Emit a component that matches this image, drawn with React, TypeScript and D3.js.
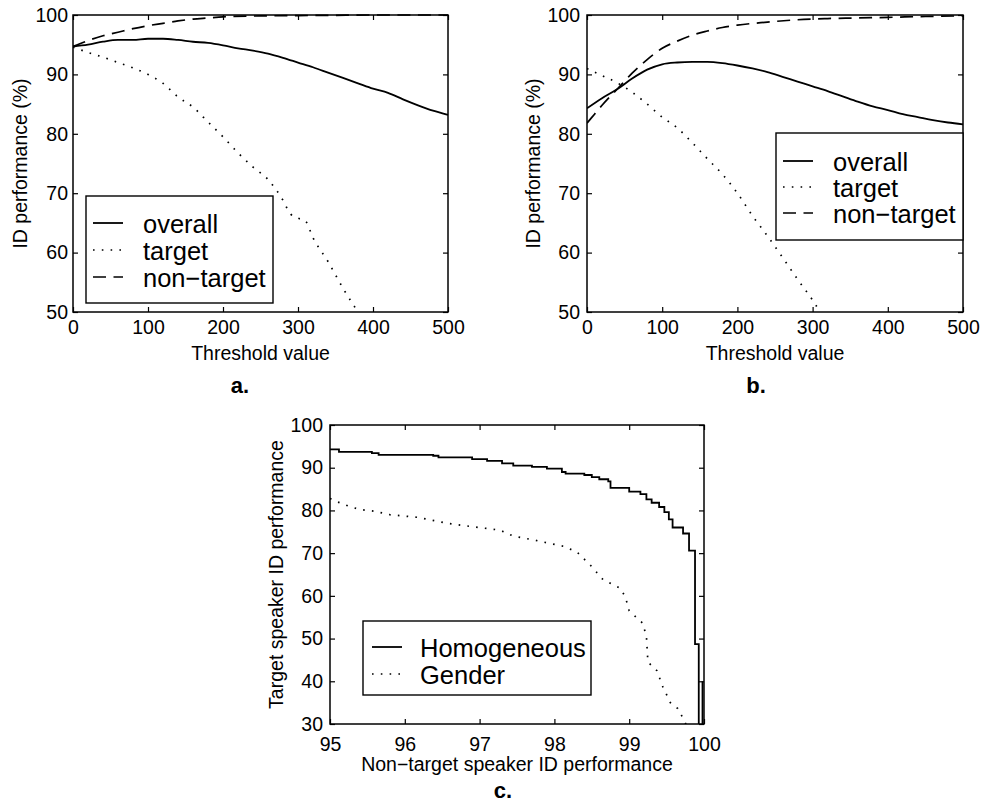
import React, { useEffect, useRef } from 'react';
import * as d3 from 'd3';

type Pt = [number, number];

// axis ticks
const thresholdTicks = [0, 100, 200, 300, 400, 500];
const perfTicks = [50, 60, 70, 80, 90, 100];
const nonTargetTicks = [95, 96, 97, 98, 99, 100];
const targetTicks = [30, 40, 50, 60, 70, 80, 90, 100];

// legends
const legendAB = ['overall', 'target', 'non\u2212target'];
const legendC = ['Homogeneous', 'Gender'];

// panel a: threshold vs ID performance (%)
const overallA: Pt[] = [[0, 94.7], [20, 95.0], [40, 95.5], [60, 95.8], [80, 95.8], [100, 96.0], [120, 96.0], [140, 95.8],
  [160, 95.5], [180, 95.3], [200, 94.9], [220, 94.4], [240, 94.0], [260, 93.5], [280, 92.8], [300, 92.0], [320, 91.2],
  [340, 90.3], [360, 89.4], [380, 88.5], [400, 87.6], [420, 86.9], [440, 85.8], [460, 84.8], [480, 83.9], [500, 83.2]];
const targetA: Pt[] = [[0, 94.6], [20, 93.7], [40, 92.9], [60, 92.0], [80, 91.1], [100, 90.0], [120, 88.5], [140, 86.2],
  [160, 84.5], [180, 82.0], [200, 79.5], [220, 76.8], [240, 74.4], [260, 72.3], [280, 68.8], [290, 66.5], [300, 65.8],
  [310, 65.3], [320, 62.5], [340, 58.5], [360, 54.0], [380, 50.0]];
const nonTargetA: Pt[] = [[0, 94.7], [10, 95.2], [20, 95.7], [40, 96.5], [60, 97.1], [80, 97.7], [100, 98.2], [120, 98.6],
  [140, 99.0], [160, 99.3], [180, 99.5], [200, 99.7], [250, 99.85], [300, 99.9], [350, 99.95], [400, 100], [500, 100]];

// panel b
const overallB: Pt[] = [[0, 84.3], [20, 86.0], [40, 87.5], [60, 89.3], [80, 90.8], [100, 91.7], [120, 92.0], [140, 92.1],
  [160, 92.1], [180, 91.9], [200, 91.5], [220, 91.0], [240, 90.4], [260, 89.6], [280, 88.8], [300, 88.0], [320, 87.2],
  [340, 86.3], [360, 85.4], [380, 84.6], [400, 84.0], [420, 83.3], [440, 82.8], [460, 82.3], [480, 81.9], [500, 81.6]];
const targetB: Pt[] = [[0, 91.0], [20, 89.8], [40, 88.6], [60, 87.0], [80, 85.0], [100, 82.8], [120, 81.0], [140, 78.5],
  [160, 75.8], [180, 73.2], [200, 70.0], [220, 66.2], [240, 62.8], [260, 59.2], [280, 55.5], [300, 52.0], [310, 50.0]];
const nonTargetB: Pt[] = [[0, 81.8], [10, 83.3], [20, 84.8], [40, 87.5], [60, 90.2], [80, 92.5], [100, 94.4], [120, 95.6],
  [140, 96.6], [160, 97.3], [180, 97.9], [200, 98.3], [240, 98.8], [280, 99.2], [320, 99.4], [360, 99.5], [400, 99.6],
  [450, 99.75], [500, 99.85]];

// panel c: non-target vs target speaker ID performance
const homogeneousC: Pt[] = [[95.0, 94.3], [95.12, 93.7], [95.56, 93.4], [95.65, 93.0], [96.38, 92.8], [96.45, 92.4],
  [96.9, 92.0], [97.1, 91.6], [97.3, 91.0], [97.45, 90.5], [97.7, 90.2], [97.9, 89.8], [98.1, 89.0], [98.15, 88.6],
  [98.4, 88.3], [98.5, 87.8], [98.6, 87.3], [98.72, 86.8], [98.75, 85.3], [99.0, 84.4], [99.15, 83.8], [99.23, 82.6],
  [99.3, 81.8], [99.4, 80.8], [99.47, 79.6], [99.53, 77.9], [99.58, 76.0], [99.72, 74.6], [99.8, 70.6], [99.88, 48.7],
  [99.93, 20], [99.98, 40]];
const genderC: Pt[] = [[95.0, 82.8], [95.1, 82.0], [95.25, 81.0], [95.4, 80.2], [95.6, 79.8], [95.8, 79.0], [96.16, 78.4],
  [96.4, 77.6], [96.56, 77.0], [96.9, 76.2], [97.27, 75.4], [97.45, 74.0], [97.72, 73.1], [98.12, 71.6], [98.3, 70.3],
  [98.48, 67.2], [98.65, 63.8], [98.88, 61.8], [98.95, 59.7], [99.0, 56.5], [99.18, 53.6], [99.23, 50.5], [99.25, 44.5],
  [99.37, 42.5], [99.45, 38.7], [99.55, 35.0], [99.65, 33.6], [99.73, 31.0], [99.77, 29.5]];

const FONT = '"Liberation Sans", Arial, Helvetica, sans-serif';
const SOLID = { dash: null as string | null, width: 1.8 };
const DOTTED = { dash: '1.6 7.2', width: 1.7 };
const DASHED = { dash: '13 7.5', width: 1.7 };

function drawPanel(svg: any, p: any) {
  const x = d3.scaleLinear().domain(p.xDomain).range([p.left, p.right]);
  const y = d3.scaleLinear().domain(p.yDomain).range([p.bottom, p.top]);
  const g = svg.append('g');
  const fmt = d3.format('d');

  g.append('clipPath').attr('id', 'clip-' + p.id).append('rect')
    .attr('x', p.left).attr('y', p.top - 2).attr('width', p.right - p.left + 2).attr('height', p.bottom - p.top + 2);

  const axes = [
    { ax: d3.axisBottom(x).tickValues(p.xTicks).tickFormat(fmt).tickPadding(p.xPad), tr: `translate(0,${p.bottom})` },
    { ax: d3.axisTop(x).tickValues(p.xTicks).tickFormat(() => ''), tr: `translate(0,${p.top})` },
    { ax: d3.axisLeft(y).tickValues(p.yTicks).tickFormat(fmt).tickPadding(p.yPad), tr: `translate(${p.left},0)` },
    { ax: d3.axisRight(y).tickValues(p.yTicks).tickFormat(() => ''), tr: `translate(${p.right},0)` },
  ];
  axes.forEach(a => {
    const ag = g.append('g').attr('transform', a.tr)
      .call(a.ax.tickSizeInner(-5).tickSizeOuter(0));
    ag.select('.domain').remove();
    ag.attr('font-size', 19.5).attr('font-family', FONT);
    ag.selectAll('line').attr('stroke-width', 1.2);
    ag.selectAll('text').attr('fill', '#000');
  });

  p.series.forEach((s: any) => {
    const line = d3.line<Pt>().x(d => x(d[0])).y(d => y(d[1])).curve(s.curve);
    g.append('path').datum(s.data).attr('d', line)
      .attr('fill', 'none').attr('stroke', '#000')
      .attr('stroke-width', s.style.width)
      .attr('stroke-dasharray', s.style.dash)
      .attr('clip-path', `url(#clip-${p.id})`);
  });

  g.append('rect').attr('x', p.left).attr('y', p.top)
    .attr('width', p.right - p.left).attr('height', p.bottom - p.top)
    .attr('fill', 'none').attr('stroke', '#000').attr('stroke-width', 1.5);

  // axis titles
  g.append('text').attr('x', (p.left + p.right) / 2).attr('y', p.xTitleY)
    .attr('text-anchor', 'middle').attr('font-family', FONT).attr('font-size', 19.5)
    .text(p.xTitle);
  g.append('text').attr('transform', `translate(${p.yTitleX},${(p.top + p.bottom) / 2}) rotate(-90)`)
    .attr('text-anchor', 'middle').attr('font-family', FONT).attr('font-size', 19.5)
    .text(p.yTitle);

  // legend
  const L = p.legend;
  g.append('rect').attr('x', L.x0).attr('y', L.y0).attr('width', L.x1 - L.x0).attr('height', L.y1 - L.y0)
    .attr('fill', '#fff').attr('stroke', '#000').attr('stroke-width', 1.4);
  p.series.forEach((s: any, i: number) => {
    const ly = L.firstLine + i * L.step;
    g.append('line').attr('x1', L.lineX0).attr('x2', L.lineX1).attr('y1', ly).attr('y2', ly)
      .attr('stroke', '#000').attr('stroke-width', s.style.width).attr('stroke-dasharray', s.style.dash);
    g.append('text').attr('x', L.textX).attr('y', ly + 9.5)
      .attr('font-family', FONT).attr('font-size', 25.5).text(s.name);
  });

  g.append('text').attr('x', p.tag[0]).attr('y', p.tag[1]).attr('text-anchor', 'middle')
    .attr('font-family', FONT).attr('font-size', 22).attr('font-weight', 'bold').text(p.tagText);
}

export default function App() {
  const ref = useRef<SVGSVGElement>(null);

  useEffect(() => {
    const svg = d3.select(ref.current);
    svg.selectAll('*').remove();

    drawPanel(svg, {
      id: 'a', left: 73, right: 448, top: 15, bottom: 312,
      xDomain: [0, 500], yDomain: [50, 100], xTicks: thresholdTicks, yTicks: perfTicks, xPad: 8, yPad: 5,
      xTitle: 'Threshold value', xTitleY: 360, yTitle: 'ID performance (%)', yTitleX: 27,
      series: [
        { name: legendAB[0], data: overallA, style: SOLID, curve: d3.curveMonotoneX },
        { name: legendAB[1], data: targetA, style: DOTTED, curve: d3.curveMonotoneX },
        { name: legendAB[2], data: nonTargetA, style: DASHED, curve: d3.curveMonotoneX },
      ],
      legend: { x0: 86, x1: 273, y0: 196, y1: 303, firstLine: 223, step: 27, lineX0: 93, lineX1: 123, textX: 143 },
      tag: [240, 393], tagText: 'a.',
    });

    drawPanel(svg, {
      id: 'b', left: 587, right: 963, top: 15, bottom: 312,
      xDomain: [0, 500], yDomain: [50, 100], xTicks: thresholdTicks, yTicks: perfTicks, xPad: 8, yPad: 7,
      xTitle: 'Threshold value', xTitleY: 360, yTitle: 'ID performance (%)', yTitleX: 540,
      series: [
        { name: legendAB[0], data: overallB, style: SOLID, curve: d3.curveMonotoneX },
        { name: legendAB[1], data: targetB, style: DOTTED, curve: d3.curveMonotoneX },
        { name: legendAB[2], data: nonTargetB, style: DASHED, curve: d3.curveMonotoneX },
      ],
      legend: { x0: 776, x1: 963, y0: 133, y1: 240, firstLine: 161, step: 26, lineX0: 783, lineX1: 813, textX: 833 },
      tag: [756, 393], tagText: 'b.',
    });

    drawPanel(svg, {
      id: 'c', left: 330, right: 704, top: 425, bottom: 724,
      xDomain: [95, 100], yDomain: [30, 100], xTicks: nonTargetTicks, yTicks: targetTicks, xPad: 13, yPad: 7,
      xTitle: 'Non\u2212target speaker ID performance', xTitleY: 771,
      yTitle: 'Target speaker ID performance', yTitleX: 283,
      series: [
        { name: legendC[0], data: homogeneousC, style: SOLID, curve: d3.curveStepAfter },
        { name: legendC[1], data: genderC, style: DOTTED, curve: d3.curveLinear },
      ],
      legend: { x0: 363, x1: 591, y0: 621, y1: 695, firstLine: 647, step: 27, lineX0: 372, lineX1: 402, textX: 420 },
      tag: [503, 798], tagText: 'c.',
    });
  }, []);

  return (
    <svg ref={ref} width={984} height={803}
      style={{ position: 'absolute', left: 0, top: 0, background: '#fff' }} />
  );
}
